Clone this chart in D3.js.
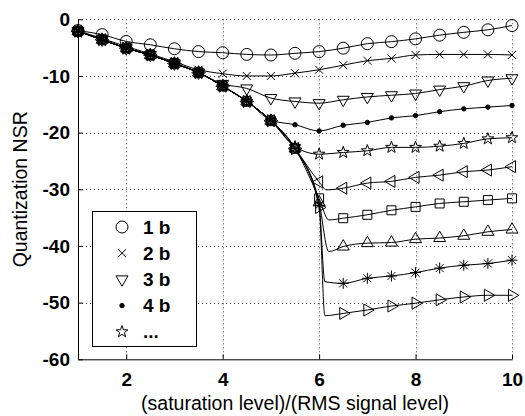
<!DOCTYPE html>
<html>
<head>
<meta charset="utf-8">
<script src="https://cdn.jsdelivr.net/npm/d3@7"></script>
<style>
    body { margin: 0; background: #fff; }
    text { font-family: 'Liberation Sans', Arial, sans-serif; fill: #000; }
    .grid line { stroke: #444; stroke-width: 1; stroke-dasharray: 1,3; }
    .axis path, .axis line { stroke: #000; stroke-width: 1; }
    .axis text { font-size: 19px; font-weight: bold; }
</style>
</head>
<body>
<script>
// x positions of the markers
var xValues = [1, 1.5, 2, 2.5, 3, 3.5, 4, 4.5, 5, 5.5, 6, 6.5, 7, 7.5, 8, 8.5, 9, 9.5, 10];

// quantization NSR per number of bits
var nsr1  = [-2.0, -2.7, -3.9, -4.5, -5.2, -5.7, -5.9, -6.2, -6.3, -6.0, -5.7, -5.1, -4.3, -3.95, -3.45, -2.8, -2.3, -1.85, -1.1];
var nsr2  = [-2.0, -3.4, -4.8, -6.1, -7.5, -8.9, -9.6, -10.0, -10.0, -9.5, -8.9, -8.1, -7.3, -6.9, -6.3, -6.2, -6.2, -6.2, -6.3];
var nsr3  = [-2.1, -3.6, -5.1, -6.3, -7.8, -9.4, -11.4, -12.2, -13.9, -14.5, -14.8, -14.2, -13.7, -13.4, -13.1, -12.4, -11.8, -10.8, -10.4];
var nsr4  = [-2.1, -3.6, -5.1, -6.3, -7.8, -9.4, -11.8, -14.4, -17.8, -18.6, -19.7, -18.7, -18.2, -17.4, -17.0, -16.3, -15.8, -15.5, -15.2];
var nsr5  = [-2.1, -3.6, -5.1, -6.3, -7.8, -9.4, -11.8, -14.5, -17.9, -22.5, -23.8, -23.5, -23.2, -22.6, -22.6, -22.4, -21.9, -21.1, -20.9];
var nsr6  = [-2.1, -3.6, -5.1, -6.3, -7.8, -9.4, -11.8, -14.5, -17.9, -22.8, -28.7, -29.8, -28.9, -28.6, -27.9, -27.5, -26.9, -26.6, -26.0];
var nsr7  = [-2.1, -3.6, -5.1, -6.3, -7.8, -9.4, -11.8, -14.5, -17.9, -22.8, -31.6, -35.1, -34.5, -33.7, -33.1, -32.5, -32.2, -31.9, -31.6];
var nsr8  = [-2.1, -3.6, -5.1, -6.3, -7.8, -9.4, -11.8, -14.5, -17.9, -22.8, -32.3, -40.1, -39.5, -39.4, -38.8, -38.6, -38.2, -37.5, -37.1];
var nsr9  = [-2.1, -3.6, -5.1, -6.3, -7.8, -9.4, -11.8, -14.5, -17.9, -22.8, -32.8, -46.6, -45.7, -45.3, -44.7, -43.9, -43.4, -43.1, -42.5];
var nsr10 = [-2.1, -3.6, -5.1, -6.3, -7.8, -9.4, -11.8, -14.5, -17.9, -22.8, -33.2, -51.9, -51.3, -50.6, -50.1, -49.5, -49.0, -48.7, -48.7];

// the line of the deeper curves bottoms out just after x=6 (no marker there)
var kneeX = [null, null, null, null, null, 6.15, 6.2, 6.2, 6.12, 6.12];
var kneeY = [null, null, null, null, null, -30.1, -35.4, -41.0, -46.3, -52.3];

var markerTypes = ['o', 'x', 'v', '.', 'p', '<', 's', '^', '*', '>'];

var legendLabels = ['1 b', '2 b', '3 b', '4 b', '...'];

var xTicks = [2, 4, 6, 8, 10],
    yTicks = [-60, -50, -40, -30, -20, -10, 0];

var series = [nsr1, nsr2, nsr3, nsr4, nsr5, nsr6, nsr7, nsr8, nsr9, nsr10].map(function(vals, i) {
    var pts = vals.map(function(v, j) { return {x: xValues[j], y: v}; }),
        line = pts.slice();
    if (kneeX[i] !== null) {
        line.push({x: kneeX[i], y: kneeY[i]});
        line.sort(function(a, b) { return a.x - b.x; });
    }
    return {marker: markerTypes[i], points: pts, line: line};
});

function markerPath(type) {
    var p;
    switch (type) {
        case 'o':
            p = d3.path(); p.arc(0, 0, 6, 0, 2 * Math.PI); p.closePath();
            return p.toString();
        case '.':
            p = d3.path(); p.arc(0, 0, 2.2, 0, 2 * Math.PI); p.closePath();
            return p.toString();
        case 'x': return 'M-4,-4L4,4M-4,4L4,-4';
        case 'v': return 'M-6,-3.5L6,-3.5L0,6.9Z';
        case '^': return 'M-6,3.5L6,3.5L0,-6.9Z';
        case '<': return 'M3.5,-6L3.5,6L-6.9,0Z';
        case '>': return 'M-3.5,-6L-3.5,6L6.9,0Z';
        case 's': return 'M-4.5,-4.5h9v9h-9Z';
        case '*': return 'M0,-5.5V5.5M-5.5,0H5.5M-4,-4L4,4M-4,4L4,-4';
        case 'p':
            var s = '';
            for (var k = 0; k < 10; k++) {
                var r = k % 2 ? 2.5 : 6.2,
                    a = -Math.PI / 2 + k * Math.PI / 5;
                s += (k ? 'L' : 'M') + (r * Math.cos(a)).toFixed(2) + ',' + (r * Math.sin(a)).toFixed(2);
            }
            return s + 'Z';
    }
}

var width = 525, height = 416,
    plotLeft = 78, plotRight = 512, plotTop = 19.3, plotBottom = 359.3;

var svg = d3.select('body').append('svg')
    .attr('width', width)
    .attr('height', height);

svg.append('rect')
    .attr('width', width)
    .attr('height', height)
    .attr('fill', '#fff');

var xScale = d3.scaleLinear().domain([1, 10]).range([plotLeft, plotRight]),
    yScale = d3.scaleLinear().domain([-60, 0]).range([plotBottom, plotTop]);

// dotted grid
var grid = svg.append('g').attr('class', 'grid');
grid.selectAll('.gx')
    .data(xTicks)
    .enter()
    .append('line')
    .attr('x1', function(d) { return Math.round(xScale(d)) + 0.5; })
    .attr('x2', function(d) { return Math.round(xScale(d)) + 0.5; })
    .attr('y1', yScale(0))
    .attr('y2', yScale(-60));
grid.selectAll('.gy')
    .data(yTicks.filter(function(d) { return d > -60; }))
    .enter()
    .append('line')
    .attr('x1', xScale(1))
    .attr('x2', xScale(10))
    .attr('y1', function(d) { return Math.round(yScale(d)) + 0.5; })
    .attr('y2', function(d) { return Math.round(yScale(d)) + 0.5; });

// axes, ticks pointing inward
var xAxis = d3.axisBottom(xScale)
        .tickValues(xTicks)
        .tickSizeInner(-5)
        .tickSizeOuter(0)
        .tickPadding(13)
        .tickFormat(d3.format('d')),
    yAxis = d3.axisLeft(yScale)
        .tickValues(yTicks)
        .tickSizeInner(-5)
        .tickSizeOuter(0)
        .tickPadding(8)
        .tickFormat(function(d) { return d < 0 ? '-' + Math.abs(d) : d; });

svg.append('g')
    .attr('class', 'x axis')
    .attr('transform', 'translate(0,' + plotBottom + ')')
    .call(xAxis);

svg.append('g')
    .attr('class', 'y axis')
    .attr('transform', 'translate(' + plotLeft + ',0)')
    .call(yAxis);

// curves
var svgline = d3.line()
    .x(function(d) { return xScale(d.x); })
    .y(function(d) { return yScale(d.y); })
    .curve(d3.curveMonotoneX);

var curves = svg.append('g').selectAll('.curve')
    .data(series)
    .enter()
    .append('g')
    .attr('class', 'curve');

curves.append('path')
    .attr('d', function(d) { return svgline(d.line); })
    .attr('fill', 'none')
    .attr('stroke', '#000')
    .attr('stroke-width', 1);

curves.each(function(s) {
    d3.select(this).selectAll('.mk')
        .data(s.points)
        .enter()
        .append('path')
        .attr('class', 'mk')
        .attr('transform', function(d) { return 'translate(' + xScale(d.x) + ',' + yScale(d.y) + ')'; })
        .attr('d', markerPath(s.marker))
        .attr('fill', s.marker === '.' ? '#000' : 'none')
        .attr('stroke', '#000')
        .attr('stroke-width', 1);
});

// legend
var legendBox = svg.append('g').attr('class', 'legend');
legendBox.append('rect')
    .attr('x', 92.5)
    .attr('y', 211.5)
    .attr('width', 104)
    .attr('height', 135)
    .attr('fill', '#fff')
    .attr('stroke', '#000');

var entries = legendBox.selectAll('.entry')
    .data(legendLabels)
    .enter()
    .append('g')
    .attr('class', 'entry')
    .attr('transform', function(d, i) { return 'translate(0,' + (227 + i * 26.2) + ')'; });

entries.append('path')
    .attr('transform', 'translate(122,0)')
    .attr('d', function(d, i) { return markerPath(markerTypes[i]); })
    .attr('fill', function(d, i) { return markerTypes[i] === '.' ? '#000' : 'none'; })
    .attr('stroke', '#000');

entries.append('text')
    .attr('x', 143)
    .attr('dy', '0.35em')
    .style('font-size', '19px')
    .style('font-weight', 'bold')
    .text(function(d) { return d; });

// axis labels
svg.append('text')
    .attr('x', (plotLeft + plotRight) / 2)
    .attr('y', 410)
    .attr('text-anchor', 'middle')
    .style('font-size', '19.5px')
    .text('(saturation level)/(RMS signal level)');

svg.append('text')
    .attr('transform', 'translate(27,' + ((plotTop + plotBottom) / 2) + ') rotate(-90)')
    .attr('text-anchor', 'middle')
    .style('font-size', '19.5px')
    .text('Quantization NSR');
</script>
</body>
</html>
